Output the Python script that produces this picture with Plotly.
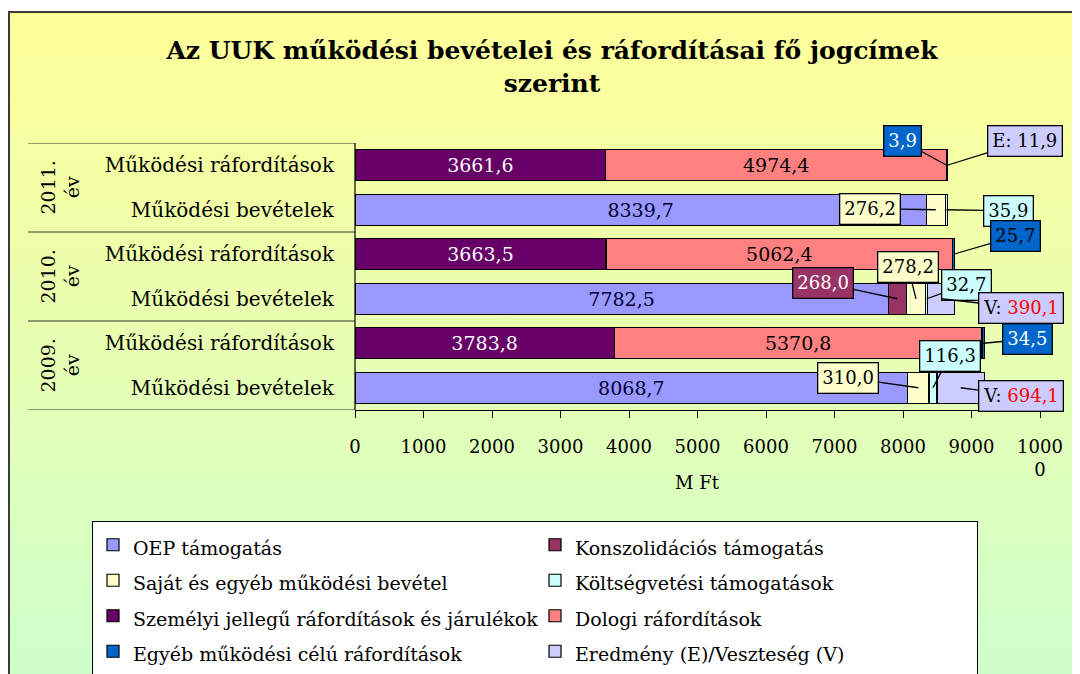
import base64

import plotly.graph_objects as go

# data
years = ["2011.", "2010.", "2009."]
rows = ["Működési ráfordítások", "Működési bevételek"]

oep = [8339.7, 7782.5, 8068.7]
konszolidacios = [0.0, 268.0, 0.0]
sajat = [276.2, 278.2, 310.0]
koltsegvetesi = [35.9, 32.7, 116.3]
szemelyi = [3661.6, 3663.5, 3783.8]
dologi = [4974.4, 5062.4, 5370.8]
egyeb = [3.9, 25.7, 34.5]
eredmeny = [11.9, -390.1, -694.1]

tick_vals = list(range(0, 10001, 1000))
tick_text = [str(v) for v in tick_vals[:-1]] + ["1000<br>0"]

# page has an 8px body margin, so the figure is drawn 8px in
O = 8
W, H = 1072, 666
L, R, T, B = 347, 40, 135, 264
pw, ph = W - L - R, H - T - B


def px(x):
    return (x - O - L) / pw


def py(y):
    return (H - B - (y - O)) / ph


def fmt(v):
    return f"{v:.1f}".replace(".", ",")


def key(year, row):
    return f"{year}|{row}"


cats = [key(y, r) for y in years for r in rows]
order = cats[::-1]
rev = [key(y, rows[1]) for y in years]
exp = [key(y, rows[0]) for y in years]

series = [
    ("OEP támogatás", oep, rev, "#9999ff", "#000033", True),
    ("Konszolidációs támogatás", konszolidacios, rev, "#993366", "white", False),
    ("Saját és egyéb működési bevétel", sajat, rev, "#ffffcc", "black", False),
    ("Költségvetési támogatások", koltsegvetesi, rev, "#ccffff", "black", False),
    ("Személyi jellegű ráfordítások és járulékok", szemelyi, exp, "#660066", "white", True),
    ("Dologi ráfordítások", dologi, exp, "#ff8080", "black", True),
    ("Egyéb működési célú ráfordítások", egyeb, exp, "#0066cc", "white", False),
]
er_y = [exp[i] if v > 0 else rev[i] for i, v in enumerate(eredmeny)]
er_x = [abs(v) for v in eredmeny]
series.append(("Eredmény (E)/Veszteség (V)", er_x, er_y, "#ccccff", "black", False))

font = "DejaVu Serif"
fig = go.Figure()
for name, vals, ys, color, tcolor, inside in series:
    fig.add_trace(go.Bar(
        name=f"<span style='font-size:19px'>{name}</span>",
        x=vals, y=ys, orientation="h",
        marker=dict(color=color, line=dict(color="black", width=1.2)),
        text=[fmt(v) if inside else "" for v in vals],
        textposition="inside", insidetextanchor="middle",
        textfont=dict(color=tcolor, size=19, family=font),
        hovertemplate=name + ": %{x}<extra></extra>",
    ))

# running bases for callouts
base = {c: 0.0 for c in cats}
mids = {}
for name, vals, ys, *_ in series:
    for v, c in zip(vals, ys):
        mids[(name, c)] = base[c] + v / 2
        base[c] += v

# callouts: (series index, year index, ax, ay, text colour)
callouts = [
    (6, 0, -44, -24, "white"),
    (7, 0, 78, -24, "black"),
    (2, 0, -66, -1, "black"),
    (3, 0, 62, 1, "black"),
    (6, 1, 62, -18, "black"),
    (1, 1, -74, -16, "white"),
    (2, 1, -8, -32, "black"),
    (3, 1, 40, -14, "black"),
    (7, 1, 80, 9, "black"),
    (6, 2, 44, -4, "white"),
    (2, 2, -70, -10, "black"),
    (3, 2, 17, -32, "black"),
    (7, 2, 60, 8, "black"),
]
for si, yi, ax, ay, tc in callouts:
    name, vals, ys, color, _, _ = series[si]
    v = vals[yi]
    c = ys[yi]
    if si == 7:
        if eredmeny[yi] > 0:
            txt = "E: " + fmt(v)
        else:
            txt = "V: <span style='color:#ff0000'>" + fmt(v) + "</span>"
    else:
        txt = fmt(v)
    fig.add_annotation(
        x=mids[(name, c)], y=c, xref="x", yref="y", text=txt,
        ax=ax, ay=ay, showarrow=True, arrowhead=0, arrowwidth=1.3,
        arrowcolor="black", bgcolor=color, bordercolor="black",
        borderwidth=1.3, borderpad=4,
        font=dict(color=tc, size=18, family=font),
    )

# year group labels and dividers
for i, y in enumerate(years):
    ypos = (order.index(exp[i]) + order.index(rev[i])) / 2
    fig.add_annotation(
        x=px(60), xref="paper", xanchor="center", y=ypos, yref="y",
        yanchor="middle", text=f"{y}<br>év", textangle=-90, showarrow=False,
        font=dict(size=19, family=font, color="black"),
    )
for b in range(len(years) + 1):
    fig.add_shape(type="line", xref="paper", yref="y",
                  x0=px(28), x1=0, y0=2 * b - 0.5, y1=2 * b - 0.5,
                  line=dict(color="#333333", width=1.2))
fig.add_shape(type="line", xref="paper", yref="paper", x0=0, x1=0, y0=0, y1=1,
              line=dict(color="black", width=1.2))

# x axis title
fig.add_annotation(x=0.5, xref="paper", y=py(482), yref="paper", yanchor="middle",
                   text="M Ft", showarrow=False, font=dict(size=18, family=font))

# gradient background and frame
svg = ('<svg xmlns="http://www.w3.org/2000/svg" width="100" height="100" '
       'preserveAspectRatio="none"><defs><linearGradient id="g" x1="0" y1="0" '
       'x2="0" y2="1"><stop offset="0" stop-color="#ffff99"/>'
       '<stop offset="0.6" stop-color="#e2ffb8"/>'
       '<stop offset="1" stop-color="#ccffcc"/></linearGradient></defs>'
       '<rect width="100" height="100" fill="url(#g)"/></svg>')
uri = "data:image/svg+xml;base64," + base64.b64encode(svg.encode()).decode()
fig.add_layout_image(
    source=uri, xref="paper", yref="paper", x=px(9), y=py(12),
    sizex=px(1090) - px(9), sizey=py(12) - py(690),
    xanchor="left", yanchor="top", sizing="stretch", layer="below",
)
fig.add_shape(type="rect", xref="paper", yref="paper",
              x0=px(9), x1=px(1100), y0=py(12), y1=py(700),
              line=dict(color="#3a3a3a", width=2), layer="below")

fig.update_layout(
    width=W, height=H,
    margin=dict(l=L, r=R, t=T, b=B, autoexpand=False),
    barmode="stack", bargap=0.3,
    paper_bgcolor="white", plot_bgcolor="rgba(0,0,0,0)",
    font=dict(family=font, size=18, color="black"),
    title=dict(
        text="<b>Az UUK működési bevételei és ráfordításai fő jogcímek<br>szerint</b>",
        x=(552 - O) / W, xref="container", xanchor="center",
        y=1 - 51 / H, yref="container", yanchor="middle",
        font=dict(size=25, family=font, color="black"),
    ),
    xaxis=dict(
        range=[0, 10000], tickvals=tick_vals, ticktext=tick_text,
        showgrid=False, zeroline=False, showline=True, linecolor="black",
        linewidth=1.2, ticks="outside", ticklen=7, tickcolor="black",
        ticklabelstandoff=13, tickfont=dict(size=18),
    ),
    yaxis=dict(
        type="category", categoryorder="array", categoryarray=order,
        range=[-0.5, len(order) - 0.5],
        tickvals=cats, ticktext=[c.split("|")[1] for c in cats],
        showgrid=False, zeroline=False, showline=False, ticks="",
        ticklabelstandoff=20, tickfont=dict(size=20),
    ),
    legend=dict(
        orientation="h", x=px(92), y=py(521), xanchor="left", yanchor="top",
        entrywidth=397, entrywidthmode="pixels",
        bgcolor="white", bordercolor="black", borderwidth=1,
        font=dict(size=25, family=font), traceorder="normal",
    ),
    showlegend=True,
)

fig.write_html("out.html")
